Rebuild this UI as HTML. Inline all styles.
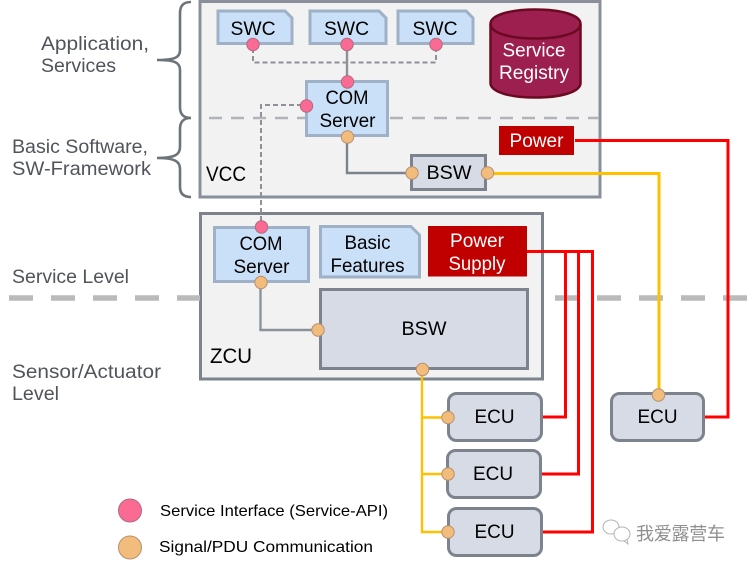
<!DOCTYPE html>
<html><head><meta charset="utf-8"><style>
html,body{margin:0;padding:0;background:#fff;width:750px;height:566px;overflow:hidden}
svg{display:block}
text{font-family:"Liberation Sans","Noto Sans CJK SC",sans-serif;font-size:19.5px;fill:#000}
.l{fill:#50555b;font-size:19px}
.w{fill:#fff}
.c{text-anchor:middle}
.b{fill:#cae0f8;stroke:#9fb1c6;stroke-width:3}
.g{fill:#d6dbe6;stroke:#7c838d;stroke-width:3}
.p{fill:#fb6a93;stroke:#b06a80;stroke-width:1}
.o{fill:#f2bc7c;stroke:#b89070;stroke-width:1}
.n{fill:none}
</style></head><body>
<svg width="750" height="566" viewBox="0 0 750 566" xmlns="http://www.w3.org/2000/svg">
<!-- braces -->
<path class="n" stroke="#6c7479" stroke-width="2.6" d="M191 2 C184 2 180 5 180 13 V50 C180 57 176 60 157 60 C176 60 180 63 180 70 V107 C180 115 184 118 191 118 C184 118 180 121 180 129 V147 C180 154 176 158 157 158 C176 158 180 162 180 169 V187 C180 194 184 197 191 197"/>

<!-- containers -->
<rect x="200" y="1.500" width="400" height="195.500" fill="#f2f2f2" stroke="#8a909b" stroke-width="3"/>
<rect x="200.500" y="213.500" width="342" height="165.500" fill="#f2f2f2" stroke="#7c838d" stroke-width="3"/>

<!-- level dashes -->
<path class="n" stroke="#bababa" stroke-width="5.500" stroke-dasharray="24 18" d="M9 298H200"/>
<path class="n" stroke="#bababa" stroke-width="5.500" stroke-dasharray="24 18" d="M555 298H750"/>
<path class="n" stroke="#b0b3b8" stroke-width="2.600" stroke-dasharray="13 9" d="M209 118H306M390 118H599"/>

<!-- gray connectors -->
<path class="n" stroke="#8e9298" stroke-width="2" stroke-dasharray="5 3" d="M253 48V62.500H436V48"/>
<path class="n" stroke="#8e9298" stroke-width="2.400" d="M347 50V78"/>
<path class="n" stroke="#8e9298" stroke-width="2" stroke-dasharray="5 3" d="M302 105H261V222"/>
<path class="n" stroke="#7c838d" stroke-width="2.400" d="M347 140V173H408"/>
<path class="n" stroke="#8a939c" stroke-width="2.400" d="M260.500 286V330H316"/>

<!-- SWC boxes -->
<path class="b" d="M218 11H285L292 18V43.500H218Z"/>
<path class="b" d="M310 11H379L386 18V43.500H310Z"/>
<path class="b" d="M398 11H466L473 18V43.500H398Z"/>
<text class="c" x="253" y="35" textLength="45" lengthAdjust="spacingAndGlyphs">SWC</text>
<text class="c" x="346.500" y="35" textLength="45" lengthAdjust="spacingAndGlyphs">SWC</text>
<text class="c" x="435" y="35" textLength="45" lengthAdjust="spacingAndGlyphs">SWC</text>

<!-- COM VCC -->
<rect class="b" x="306.500" y="81.500" width="81" height="54"/>
<text class="c" x="347" y="104" textLength="43" lengthAdjust="spacingAndGlyphs">COM</text>
<text class="c" x="347.500" y="127" textLength="56" lengthAdjust="spacingAndGlyphs">Server</text>

<!-- Registry -->
<path d="M490.500 24C490.500 15 510 9.500 535.500 9.500C561 9.500 580.500 15 580.500 24V83C580.500 92 561 97.500 535.500 97.500C510 97.500 490.500 92 490.500 83Z" fill="#9d1f4f" stroke="#6b0a22" stroke-width="2.500"/>
<path class="n" d="M490.500 24C490.500 33 510 38.500 535.500 38.500C561 38.500 580.500 33 580.500 24" stroke="#6b0a22" stroke-width="2.500"/>
<text class="c w" x="534" y="56.500" textLength="63" lengthAdjust="spacingAndGlyphs">Service</text>
<text class="c w" x="534" y="79" textLength="70" lengthAdjust="spacingAndGlyphs">Registry</text>

<!-- Power -->
<rect x="499" y="126" width="75" height="29" fill="#c00000"/>
<text class="c w" x="536.500" y="147" textLength="54" lengthAdjust="spacingAndGlyphs">Power</text>

<!-- BSW VCC -->
<rect class="g" x="411.500" y="155.500" width="74" height="34"/>
<text class="c" x="449" y="179" textLength="45" lengthAdjust="spacingAndGlyphs">BSW</text>

<!-- VCC / ZCU text -->
<text x="206" y="181" style="font-size:21px" textLength="40" lengthAdjust="spacingAndGlyphs">VCC</text>
<text x="210" y="363" style="font-size:21px" textLength="42" lengthAdjust="spacingAndGlyphs">ZCU</text>

<!-- ZCU items -->
<rect class="b" x="214.500" y="227.500" width="94" height="54"/>
<text class="c" x="261" y="250" textLength="43" lengthAdjust="spacingAndGlyphs">COM</text>
<text class="c" x="261.500" y="273" textLength="56" lengthAdjust="spacingAndGlyphs">Server</text>
<path class="b" d="M320.500 226.500H411L419.500 235V277H320.500Z" />
<text class="c" x="367.500" y="249" textLength="46" lengthAdjust="spacingAndGlyphs">Basic</text>
<text class="c" x="367.500" y="272" textLength="74" lengthAdjust="spacingAndGlyphs">Features</text>
<rect x="428" y="226" width="99" height="50.500" fill="#c00000"/>
<text class="c w" x="477" y="247" textLength="54" lengthAdjust="spacingAndGlyphs">Power</text>
<text class="c w" x="477" y="270" textLength="57" lengthAdjust="spacingAndGlyphs">Supply</text>
<rect class="g" x="320.500" y="289.500" width="207" height="79"/>
<text class="c" x="424" y="335" textLength="45" lengthAdjust="spacingAndGlyphs">BSW</text>

<!-- red lines -->
<path class="n" stroke="#f00" stroke-width="3" d="M575 140.500H728V417H704"/>
<path class="n" stroke="#f00" stroke-width="3" d="M527 251.500H592.500V532H542"/>
<path class="n" stroke="#f00" stroke-width="3" d="M565.500 251.500V417H542"/>
<path class="n" stroke="#f00" stroke-width="3" d="M578.500 251.500V474H541"/>

<!-- yellow lines -->
<path class="n" stroke="#ffc000" stroke-width="3" d="M490 173.500H659V392"/>
<path class="n" stroke="#ffc000" stroke-width="2.400" d="M422 372V532H446M422 417.500H446M422 474H446"/>

<!-- ECUs -->
<rect class="g" x="448.500" y="393.500" width="93" height="47" rx="8"/>
<rect class="g" x="447.500" y="450.500" width="93" height="47" rx="8"/>
<rect class="g" x="448.500" y="508.500" width="93" height="47" rx="8"/>
<rect class="g" x="611.500" y="393.500" width="92" height="47" rx="8"/>
<text class="c" x="494.500" y="423" textLength="40" lengthAdjust="spacingAndGlyphs">ECU</text>
<text class="c" x="493" y="480" textLength="40" lengthAdjust="spacingAndGlyphs">ECU</text>
<text class="c" x="494.500" y="538" textLength="40" lengthAdjust="spacingAndGlyphs">ECU</text>
<text class="c" x="657.500" y="423" textLength="40" lengthAdjust="spacingAndGlyphs">ECU</text>

<!-- ports -->
<circle class="p" cx="253" cy="44.500" r="6.200"/>
<circle class="p" cx="347" cy="44.500" r="6.200"/>
<circle class="p" cx="436" cy="44.500" r="6.200"/>
<circle class="p" cx="347.500" cy="82" r="6.200"/>
<circle class="p" cx="306.500" cy="106" r="6.200"/>
<circle class="p" cx="261.500" cy="227" r="6.200"/>
<circle class="o" cx="347.500" cy="137" r="6.200"/>
<circle class="o" cx="412" cy="173" r="6.200"/>
<circle class="o" cx="487.500" cy="173" r="6.200"/>
<circle class="o" cx="261" cy="282.500" r="6.200"/>
<circle class="o" cx="318" cy="330" r="6.200"/>
<circle class="o" cx="422.500" cy="369.500" r="6.200"/>
<circle class="o" cx="448" cy="417.500" r="6.200"/>
<circle class="o" cx="448" cy="474" r="6.200"/>
<circle class="o" cx="448" cy="532" r="6.200"/>
<circle class="o" cx="658.500" cy="395" r="6.200"/>

<!-- left labels -->
<text class="l" x="41" y="50" textLength="108" lengthAdjust="spacingAndGlyphs">Application,</text>
<text class="l" x="41" y="72" textLength="75" lengthAdjust="spacingAndGlyphs">Services</text>
<text class="l" x="12" y="153" textLength="136" lengthAdjust="spacingAndGlyphs">Basic Software,</text>
<text class="l" x="12" y="175" textLength="139" lengthAdjust="spacingAndGlyphs">SW-Framework</text>
<text class="l" x="12" y="283" textLength="117" lengthAdjust="spacingAndGlyphs">Service Level</text>
<text class="l" x="12" y="378" textLength="149" lengthAdjust="spacingAndGlyphs">Sensor/Actuator</text>
<text class="l" x="12" y="400" textLength="47" lengthAdjust="spacingAndGlyphs">Level</text>

<!-- legend -->
<circle cx="130" cy="510.500" r="11.500" fill="#fb6a93" stroke="#b06a80" stroke-width="1"/>
<circle cx="130" cy="547.500" r="11.500" fill="#f2bc7c" stroke="#b89070" stroke-width="1"/>
<text x="160" y="516" style="font-size:16px" textLength="228" lengthAdjust="spacingAndGlyphs">Service Interface (Service-API)</text>
<text x="159" y="552" style="font-size:16px" textLength="214" lengthAdjust="spacingAndGlyphs">Signal/PDU Communication</text>

<!-- watermark -->
<g class="n" stroke="#b4b4b4" stroke-width="1">
<ellipse cx="611" cy="527" rx="8" ry="7"/>
<ellipse cx="622" cy="534" rx="8" ry="7" fill="#fff"/>
<path d="M624 541L628 544L627 539"/>
</g>
<text x="636" y="540" style="font-size:18px;fill:#8f8f8f" textLength="89">我爱露营车</text>
</svg>
</body></html>
